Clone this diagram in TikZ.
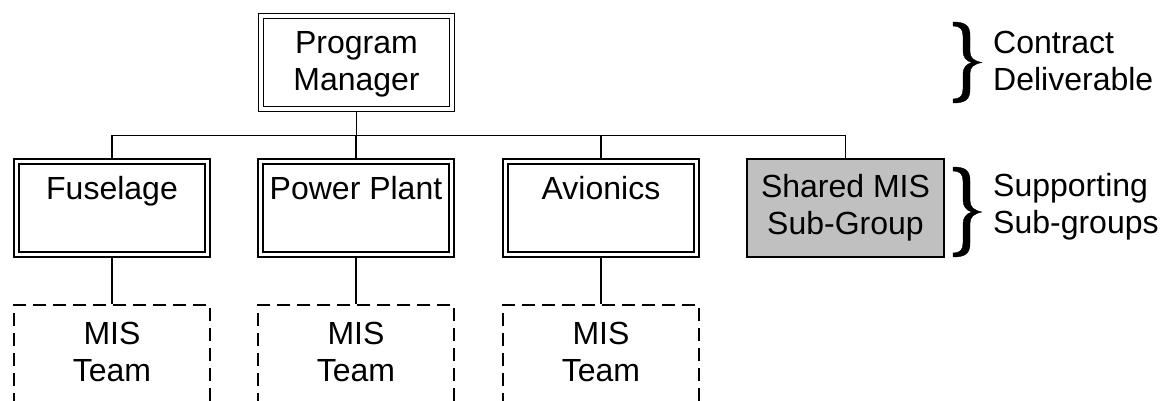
\documentclass[tikz,border=0pt]{standalone}
\usepackage{fontspec}
\setmainfont{Liberation Sans}
\usetikzlibrary{backgrounds}
\definecolor{boxgray}{RGB}{192,192,192}
\newcommand\twol[3]{\rule{0pt}{#1}#2\\#3\rule[-11pt]{0pt}{11pt}}
\tikzset{
  every node/.style={font=\fontsize{32}{37}\selectfont, inner sep=0pt, align=center},
  dbox/.style={draw=black, line width=1.5pt, double=white, double distance=3.5pt, fill=white,
    minimum width=191pt, minimum height=93pt},
  sbox/.style={draw=black, line width=1.5pt, fill=boxgray, minimum width=197pt, minimum height=98pt},
  tbox/.style={draw=black, line width=1.5pt, dash pattern=on 13pt off 7pt, fill=white,
    minimum width=196pt, minimum height=100pt},
  conn/.style={line width=1.5pt},
  braceshape/.style={fill=black, draw=black, line width=0.4pt, line join=round},
  note/.style={align=left, anchor=north west}
}
\begin{document}
\begin{tikzpicture}[x=1pt, y=-1pt]
\useasboundingbox (0,0) rectangle (1163,400);
\clip (0,0) rectangle (1163,400);
\node[dbox] (pm) at (356.5,62.5) {\twol{30pt}{Program}{Manager}};
\node[dbox] (fus) at (112,208) {\twol{30pt}{Fuselage}{}};
\node[dbox] (pp) at (356,208) {\twol{30pt}{Power Plant}{}};
\node[dbox] (av) at (601,208) {\twol{30pt}{Avionics}{}};
\node[sbox] (sh) at (845.5,208) {\twol{26pt}{Shared MIS}{Sub-Group}};
\node[tbox] (m1) at (112,355) {\twol{26pt}{MIS}{Team}};
\node[tbox] (m2) at (356,355) {\twol{26pt}{MIS}{Team}};
\node[tbox] (m3) at (601,355) {\twol{26pt}{MIS}{Team}};
\coordinate (bus) at (356.5,135.5);
\begin{scope}[on background layer]
\draw[conn] (pm.south) -- (bus);
\draw[conn] (bus) -| (fus.north);
\draw[conn] (bus) -| (pp.north);
\draw[conn] (bus) -| (av.north);
\draw[conn] (bus) -| (sh.north);
\draw[conn] (fus.south) -- (m1.north);
\draw[conn] (pp.south) -- (m2.north);
\draw[conn] (av.south) -- (m3.north);
\end{scope}
\filldraw[braceshape] (953,22) .. controls (966,22) and (970,26) .. (970,36) -- (970,52)
  .. controls (970,58) and (974,61) .. (982,62.5)
  .. controls (974,64) and (970,67) .. (970,73) -- (970,89)
  .. controls (970,99) and (966,103) .. (953,103) -- (953,99)
  .. controls (960,99) and (963,96) .. (963,89) -- (963,74)
  .. controls (963,68) and (966,64) .. (972,62.5)
  .. controls (966,61) and (963,57) .. (963,51) -- (963,36)
  .. controls (963,29) and (960,26) .. (953,26) -- cycle;
\filldraw[braceshape] (953,167) .. controls (966,167) and (970,171) .. (970,181) -- (970,201)
  .. controls (970,207) and (974,210.5) .. (982,212)
  .. controls (974,213.5) and (970,217) .. (970,223) -- (970,243)
  .. controls (970,253) and (966,257) .. (953,257) -- (953,253)
  .. controls (960,253) and (963,250) .. (963,243) -- (963,224)
  .. controls (963,218) and (966,213.5) .. (972,212)
  .. controls (966,210.5) and (963,206) .. (963,200) -- (963,181)
  .. controls (963,174) and (960,171) .. (953,171) -- cycle;
\node[note] (cd) at (993,23) {\rule{0pt}{30pt}Contract\\Deliverable};
\node[note] (ss) at (993,166) {\rule{0pt}{30pt}Supporting\\Sub-groups};
\end{tikzpicture}
\end{document}
